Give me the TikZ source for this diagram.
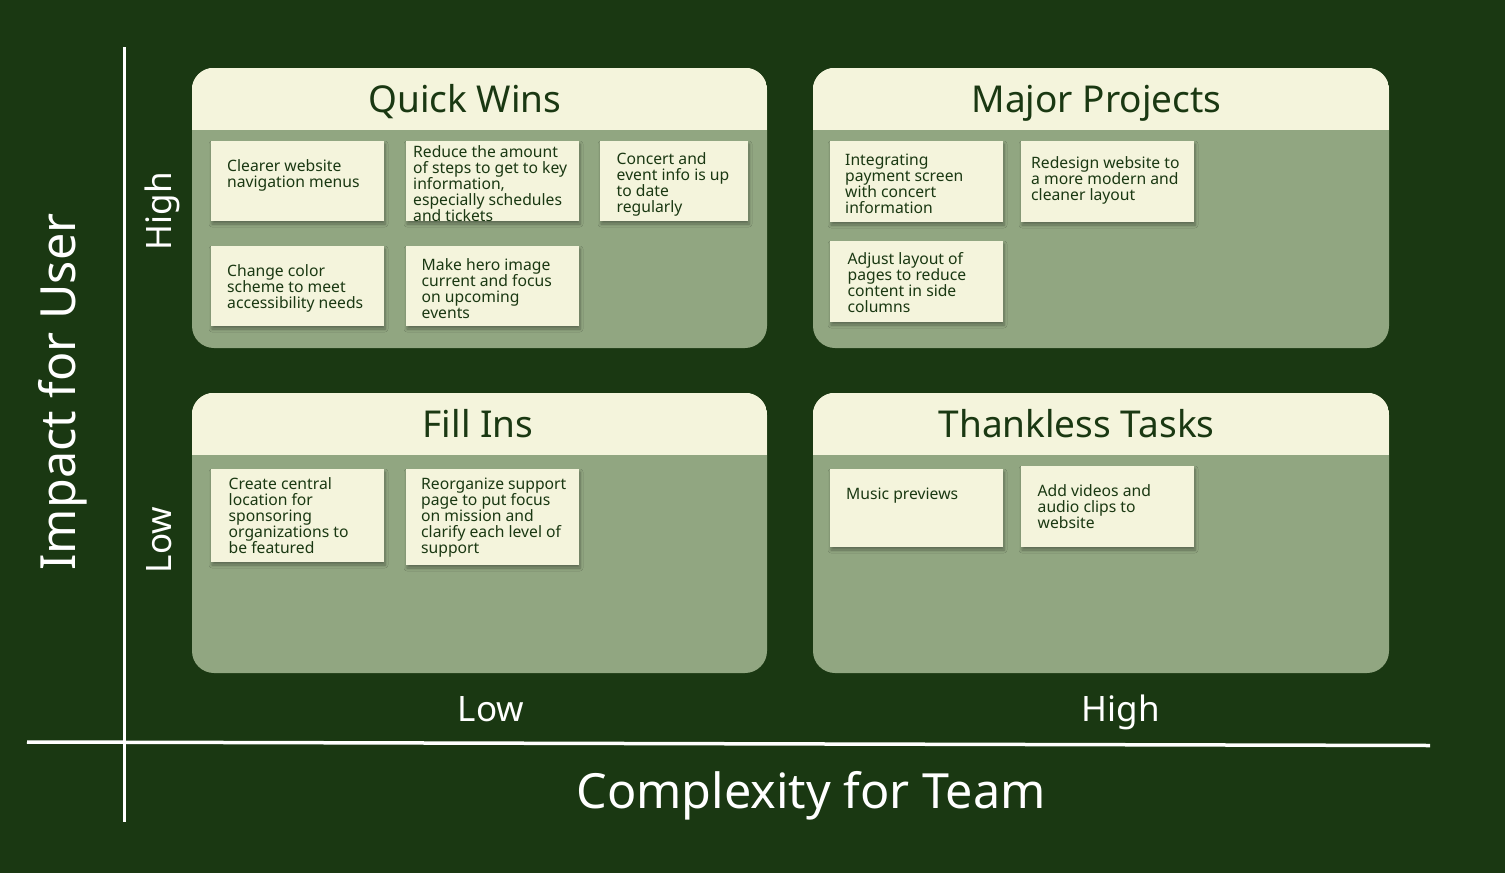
\documentclass[tikz,border=0pt]{standalone}
\usepackage{fontspec}
\setmainfont{Noto Sans}
\usetikzlibrary{shadows.blur}
\definecolor{bg}{HTML}{1A3812}
\definecolor{sage}{HTML}{91A681}
\definecolor{cream}{HTML}{F4F4DC}
\definecolor{ink}{HTML}{1A3812}
\tikzset{
  panel/.style={fill=sage, rounded corners=22pt, inner sep=0pt},
  notebox/.style={fill=cream, inner sep=0pt,
     blur shadow={shadow xshift=1pt, shadow yshift=-3pt, shadow opacity=35, shadow blur radius=3pt, shadow blur steps=6}},
  notetext/.style={anchor=north west, inner sep=0pt, align=left, text=ink,
     font=\fontsize{15.7pt}{16pt}\selectfont},
  title/.style={anchor=base, inner sep=0pt, text=ink, font=\fontsize{37pt}{40pt}\selectfont},
  axislab/.style={anchor=base, inner sep=0pt, text=white, font=\fontsize{48.5pt}{52pt}\selectfont},
  ticklab/.style={anchor=base, inner sep=0pt, text=white, font=\fontsize{35pt}{40pt}\selectfont},
  axisline/.style={draw=white, line width=3.5pt}
}
\begin{document}
\begin{tikzpicture}[x=1pt,y=-1pt]
\useasboundingbox[fill=bg] (0,0) rectangle (1505,873);
% panels
\node[panel, minimum width=575pt, minimum height=280pt] (qw) at (479.5,208) {};
\node[panel, minimum width=576pt, minimum height=280pt] (mp) at (1101,208) {};
\node[panel, minimum width=575pt, minimum height=280pt] (fi) at (479.5,533) {};
\node[panel, minimum width=576pt, minimum height=280pt] (tt) at (1101,533) {};
\foreach \p in {qw,mp,fi,tt}{
  \begin{scope}
  \clip[rounded corners=22pt] (\p.north west) rectangle (\p.south east);
  \fill[cream] (\p.north west) rectangle ([yshift=-62pt]\p.north east);
  \end{scope}
}
% titles
\node[title] (tqw) at (465,112) {Quick Wins};
\node[title] (tmp) at (1096.5,112) {Major Projects};
\node[title] (tfi) at (478,437) {Fill Ins};
\node[title] (ttt) at (1076.5,437) {Thankless Tasks};
% notes
\node[notebox, minimum width=173pt, minimum height=80pt] (n1) at (297.5,181) {};
\node[notebox, minimum width=173pt, minimum height=80pt] (n2) at (492.5,181) {};
\node[notebox, minimum width=148pt, minimum height=80pt] (n3) at (674,181) {};
\node[notebox, minimum width=173pt, minimum height=80pt] (n4) at (297.5,286) {};
\node[notebox, minimum width=173pt, minimum height=80pt] (n5) at (492.5,286) {};
\node[notebox, minimum width=173pt, minimum height=81pt] (m1) at (916.5,181.5) {};
\node[notebox, minimum width=173pt, minimum height=81pt] (m2) at (1107.5,181.5) {};
\node[notebox, minimum width=173pt, minimum height=81pt] (m3) at (916.5,281.5) {};
\node[notebox, minimum width=173pt, minimum height=93pt] (f1) at (297.5,515.5) {};
\node[notebox, minimum width=173pt, minimum height=96pt] (f2) at (492.5,517) {};
\node[notebox, minimum width=173pt, minimum height=78pt] (t1) at (916.5,508) {};
\node[notebox, minimum width=173pt, minimum height=81pt] (t2) at (1107.5,506.5) {};
% note texts
\node[notetext] (x1) at (227,159.5) {Clearer website\\navigation menus};
\node[notetext] (x2) at (413,145.5) {Reduce the amount\\of steps to get to key\\information,\\especially schedules\\and tickets};
\node[notetext] (x3) at (616.5,152.5) {Concert and\\event info is up\\to date\\regularly};
\node[notetext] (x4) at (227,264.5) {Change color\\scheme to meet\\accessibility needs};
\node[notetext] (x5) at (421.5,258.5) {Make hero image\\current and focus\\on upcoming\\events};
\node[notetext] (y1) at (845,153.5) {Integrating\\payment screen\\with concert\\information};
\node[notetext] (y2) at (1031,156.5) {Redesign website to\\a more modern and\\cleaner layout};
\node[notetext] (y3) at (847.5,252.5) {Adjust layout of\\pages to reduce\\content in side\\columns};
\node[notetext] (z1) at (228.5,477.5) {Create central\\location for\\sponsoring\\organizations to\\be featured};
\node[notetext] (z2) at (421,477.5) {Reorganize support\\page to put focus\\on mission and\\clarify each level of\\support};
\node[notetext] (w1) at (846,487.5) {Music previews};
\node[notetext] (w2) at (1037.5,484.5) {Add videos and\\audio clips to\\website};
% axes
\coordinate (va) at (124,47);
\coordinate (vb) at (124,822);
\coordinate (ha) at (27,742);
\coordinate (hb) at (1430,745.5);
\draw[axisline, line width=3pt] (va) -- (vb);
\draw[axisline] (ha) -- (hb);
% axis labels
\node[axislab, rotate=90] (ylab) at (75,392) {Impact for User};
\node[axislab] (xlab) at (811,808) {Complexity for Team};
\node[ticklab, rotate=90] (yhigh) at (171,211) {High};
\node[ticklab, rotate=90] (ylow) at (171,540) {Low};
\node[ticklab] (xlow) at (491,721) {Low};
\node[ticklab] (xhigh) at (1121,721) {High};
\end{tikzpicture}
\end{document}
